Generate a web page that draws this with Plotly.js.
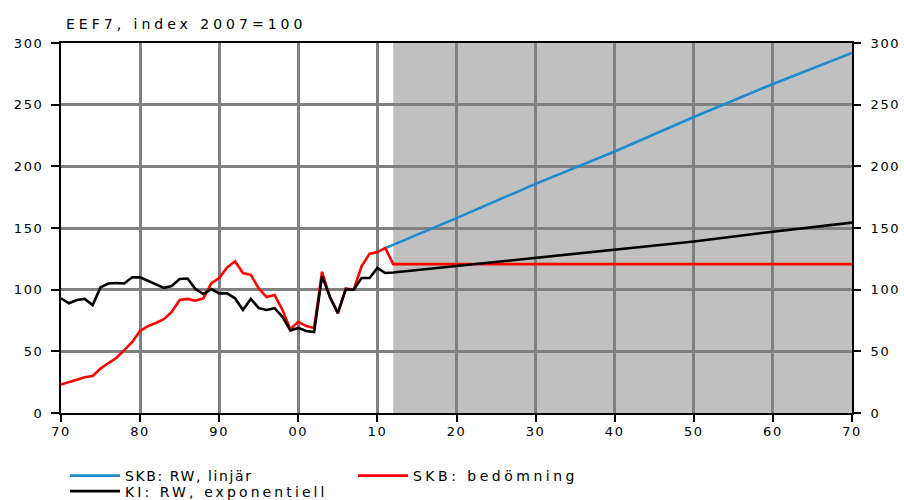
<!DOCTYPE html>
<html>
<head>
<meta charset="utf-8">
<script src="https://cdn.plot.ly/plotly-3.0.1.min.js"></script>
<style>
html,body{margin:0;padding:0;background:#fff;}
#chart{width:904px;height:500px;}
</style>
</head>
<body>
<div id="chart"></div>
<script>
// Historical years 1970-2012
const histYears = [1970,1971,1972,1973,1974,1975,1976,1977,1978,1979,1980,1981,1982,1983,1984,1985,1986,1987,1988,1989,1990,1991,1992,1993,1994,1995,1996,1997,1998,1999,2000,2001,2002,2003,2004,2005,2006,2007,2008,2009,2010,2011,2012];

// SKB: bedömning (red), historical part
const redHist = [23,25,27.5,29,30,36,40.5,44.6,51,57.6,66.5,70.5,73,76,82,91.6,92.5,91,93,105,109.5,118,123,113.5,112,101,94,95.7,83.5,68,74,70.5,69,114.5,94,81,101,100,119,129,130.5,133.7,120.7];
// SKB: bedömning (red), projection
const redProjYears = [2012,2070];
const redProj = [120.7,120.7];

// KI: RW, exponentiell (black), historical part
const blackHist = [93,89,91.6,92.5,87.5,102,105,105.4,105,110,110,107,104,101.5,103,108.7,109,100.5,96.5,100.5,97,97,93,83.5,92.5,85,83.5,85,78,67,69,66.5,65.7,111,94,81,100,100,109.5,109.5,117.5,113.5,113.9];
// KI: RW, exponentiell (black), projection
const blackProjYears = [2012,2020,2030,2040,2050,2060,2070];
const blackProj = [113.9,119.3,126,132.3,139,147,154.4];

// SKB: RW, linjär (blue)
const blueYears = [2011,2020,2030,2040,2050,2060,2070];
const blueVals = [133.7,158,185.8,212,240,266.8,292];

// Forecast shading
const shadeStart = 2012, shadeEnd = 2070;

// Axis ticks
const xTickVals = [1970,1980,1990,2000,2010,2020,2030,2040,2050,2060,2070];
const xTickText = ['70','80','90','00','10','20','30','40','50','60','70'];
const yTickVals = [0,50,100,150,200,250,300];
const yTickText = ['0','50','100','150','200','250','300'];

// Labels
const titleText = 'EEF7, index 2007=100';
const seriesNames = ['SKB: RW, linjär', 'SKB: bedömning', 'KI: RW, exponentiell'];

const redX = histYears.concat(redProjYears.slice(1));
const redY = redHist.concat(redProj.slice(1));
const blackX = histYears.concat(blackProjYears.slice(1));
const blackY = blackHist.concat(blackProj.slice(1));

const FONT = 'DejaVu Sans, Verdana, sans-serif';
const spaced = (t, s) => '<span style="letter-spacing:' + s + 'px">' + t + '</span>';

const traces = [
  {x: blueYears, y: blueVals, type:'scatter', mode:'lines', name: spaced(seriesNames[0], 1.6),
   line:{color:'#1b8bd0', width:2.6}, legend:'legend'},
  {x: redX, y: redY, type:'scatter', mode:'lines', name: spaced(seriesNames[1], 3.5),
   line:{color:'#ff0000', width:2.6}, legend:'legend'},
  {x: blackX, y: blackY, type:'scatter', mode:'lines', name: spaced(seriesNames[2], 3.1),
   line:{color:'#000000', width:2.6}, legend:'legend2'},
  {x: redX, y: redY, type:'scatter', mode:'lines', yaxis:'y2', showlegend:false,
   hoverinfo:'skip', line:{color:'rgba(0,0,0,0)', width:0}}
];

const legendBase = {orientation:'h', xanchor:'left', yanchor:'top',
  font:{family:FONT, size:14, color:'#000'}, entrywidth:223,
  itemwidth:50, bgcolor:'rgba(0,0,0,0)', borderwidth:0};

const tickFont = {family:FONT, size:13, color:'#000'};
const axisCommon = {showline:true, linecolor:'#000', linewidth:2, mirror:true,
  ticks:'outside', ticklen:8, tickwidth:2, tickcolor:'#000',
  tickfont:tickFont, zeroline:false, fixedrange:true,
  showgrid:true, gridcolor:'#808080', gridwidth:3};

const yTickSpaced = yTickText.map(t => spaced(t, 1.6));
const xTickSpaced = xTickText.map(t => spaced(t, 1.6));

const layout = {
  width:904, height:500,
  margin:{l:61, r:52, t:43, b:87, autoexpand:false},
  paper_bgcolor:'#ffffff', plot_bgcolor:'#ffffff',
  font:{family:FONT, size:13, color:'#000'},
  title:{text: spaced(titleText, 4), x:66/904, xanchor:'left', xref:'container',
         y:1-24/500, yanchor:'middle', yref:'container',
         font:{family:FONT, size:14, color:'#000'}},
  showlegend:true,
  legend:Object.assign({}, legendBase, {x:0.005, y:-0.127}),
  legend2:Object.assign({}, legendBase, {x:0.005, y:-0.169}),
  xaxis:Object.assign({}, axisCommon, {range:[1970,2070], tickvals:xTickVals, ticktext:xTickSpaced,
         ticklen:7, ticklabelstandoff:-2}),
  yaxis:Object.assign({}, axisCommon, {range:[0,300], tickvals:yTickVals, ticktext:yTickSpaced,
         ticklabelstandoff:5}),
  yaxis2:{range:[0,300], tickvals:yTickVals, ticktext:yTickSpaced, overlaying:'y', side:'right',
         showgrid:false, showline:false, ticklabelstandoff:7,
         ticks:'outside', ticklen:8, tickwidth:2, tickcolor:'#000',
         tickfont:tickFont, zeroline:false, fixedrange:true},
  shapes:[{type:'rect', xref:'x', yref:'paper', x0:shadeStart, x1:shadeEnd, y0:0, y1:1,
           fillcolor:'#c0c0c0', line:{width:0}, layer:'below'}]
};

Plotly.newPlot('chart', traces, layout, {displayModeBar:false, staticPlot:true});
</script>
</body>
</html>
